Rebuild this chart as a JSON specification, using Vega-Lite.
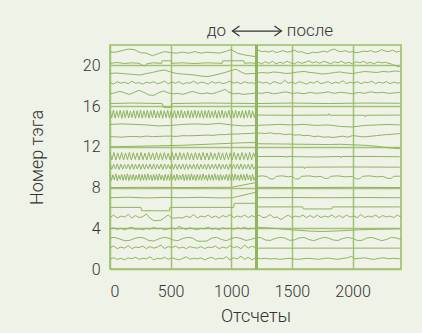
{
"$schema":"https://vega.github.io/schema/vega-lite/v6.json",
"width":291,"height":224,
"autosize":{"type":"none"},
"padding":{"left":110,"top":45,"right":21,"bottom":64},
"background":"#eef2e7",
"config":{
"view":{"stroke":"#9cbe6a","strokeWidth":1.6},
"font":"Roboto",
"axis":{"grid":true,"gridColor":"#a2c274","gridWidth":1.5,"ticks":false,"domain":false,"labelFont":"Roboto","labelFontWeight":300,"labelFontSize":16,"labelColor":"#333333","titleFont":"Roboto","titleFontWeight":300,"titleFontSize":18,"titleColor":"#333333"}
},
"layer":[
{
"data":{"values":[
{"t":21,"x":0,"y":21.3},{"t":21,"x":50,"y":21.3},{"t":21,"x":100,"y":21.45},{"t":21,"x":150,"y":21.6},{"t":21,"x":200,"y":21.55},{"t":21,"x":250,"y":21.25},{"t":21,"x":300,"y":21.2},{"t":21,"x":350,"y":20.95},{"t":21,"x":400,"y":21.15},{"t":21,"x":450,"y":21.35},{"t":21,"x":500,"y":21.25},{"t":21,"x":550,"y":21.2},{"t":21,"x":600,"y":21.3},{"t":21,"x":650,"y":21.2},{"t":21,"x":700,"y":21.35},{"t":21,"x":750,"y":21.2},{"t":21,"x":800,"y":21.3},{"t":21,"x":850,"y":21.25},{"t":21,"x":900,"y":21.2},{"t":21,"x":950,"y":21.35},{"t":21,"x":1000,"y":21.55},{"t":21,"x":1050,"y":21.2},{"t":21,"x":1100,"y":21.05},{"t":21,"x":1150,"y":20.95},{"t":21,"x":1200,"y":20.85},
{"t":21,"x":1220,"y":21.5},{"t":21,"x":1250,"y":21.35},{"t":21,"x":1280,"y":21.4},{"t":21,"x":1310,"y":21.3},{"t":21,"x":1340,"y":21.45},{"t":21,"x":1370,"y":21.25},{"t":21,"x":1400,"y":21.35},{"t":21,"x":1430,"y":21.45},{"t":21,"x":1460,"y":21.3},{"t":21,"x":1490,"y":21.35},{"t":21,"x":1520,"y":21.5},{"t":21,"x":1550,"y":21.3},{"t":21,"x":1580,"y":21.35},{"t":21,"x":1610,"y":21.2},{"t":21,"x":1640,"y":21.15},{"t":21,"x":1670,"y":21.3},{"t":21,"x":1700,"y":21.25},{"t":21,"x":1730,"y":21.3},{"t":21,"x":1760,"y":21.4},{"t":21,"x":1790,"y":21.3},{"t":21,"x":1820,"y":21.5},{"t":21,"x":1850,"y":21.6},{"t":21,"x":1880,"y":21.4},{"t":21,"x":1910,"y":21.35},{"t":21,"x":1940,"y":21.45},{"t":21,"x":1970,"y":21.3},{"t":21,"x":2000,"y":21.35},{"t":21,"x":2030,"y":21.25},{"t":21,"x":2060,"y":21.3},{"t":21,"x":2090,"y":21.4},{"t":21,"x":2120,"y":21.35},{"t":21,"x":2150,"y":21.45},{"t":21,"x":2180,"y":21.3},{"t":21,"x":2210,"y":21.35},{"t":21,"x":2240,"y":21.55},{"t":21,"x":2270,"y":21.4},{"t":21,"x":2300,"y":21.35},{"t":21,"x":2330,"y":21.5},{"t":21,"x":2360,"y":21.3},{"t":21,"x":2390,"y":21.4},
{"t":20,"x":0,"y":20.2},{"t":20,"x":60,"y":20.28},{"t":20,"x":120,"y":20.18},{"t":20,"x":180,"y":20.25},{"t":20,"x":240,"y":20.2},{"t":20,"x":265,"y":20.02},{"t":20,"x":285,"y":19.95},{"t":20,"x":305,"y":20.15},{"t":20,"x":350,"y":20.25},{"t":20,"x":425,"y":20.2},{"t":20,"x":430,"y":20.45},{"t":20,"x":505,"y":20.45},{"t":20,"x":510,"y":20.2},{"t":20,"x":600,"y":20.25},{"t":20,"x":700,"y":20.18},{"t":20,"x":800,"y":20.25},{"t":20,"x":925,"y":20.2},{"t":20,"x":930,"y":20.45},{"t":20,"x":1105,"y":20.45},{"t":20,"x":1110,"y":20.2},{"t":20,"x":1160,"y":20.25},{"t":20,"x":1200,"y":20.2},
{"t":20,"x":1220,"y":20.3},{"t":20,"x":1250,"y":20.15},{"t":20,"x":1280,"y":20.35},{"t":20,"x":1310,"y":20.2},{"t":20,"x":1340,"y":20.4},{"t":20,"x":1370,"y":20.15},{"t":20,"x":1400,"y":20.3},{"t":20,"x":1430,"y":20.2},{"t":20,"x":1460,"y":20.4},{"t":20,"x":1490,"y":20.25},{"t":20,"x":1520,"y":20.15},{"t":20,"x":1550,"y":20.35},{"t":20,"x":1580,"y":20.2},{"t":20,"x":1610,"y":20.3},{"t":20,"x":1640,"y":20.45},{"t":20,"x":1670,"y":20.25},{"t":20,"x":1700,"y":20.35},{"t":20,"x":1730,"y":20.2},{"t":20,"x":1760,"y":20.4},{"t":20,"x":1790,"y":20.3},{"t":20,"x":1820,"y":20.15},{"t":20,"x":1850,"y":20.35},{"t":20,"x":1880,"y":20.25},{"t":20,"x":1910,"y":20.4},{"t":20,"x":1940,"y":20.2},{"t":20,"x":1970,"y":20.3},{"t":20,"x":2000,"y":20.15},{"t":20,"x":2030,"y":20.35},{"t":20,"x":2060,"y":20.25},{"t":20,"x":2090,"y":20.4},{"t":20,"x":2120,"y":20.2},{"t":20,"x":2150,"y":20.3},{"t":20,"x":2180,"y":20.15},{"t":20,"x":2210,"y":20.35},{"t":20,"x":2240,"y":20.25},{"t":20,"x":2270,"y":20.3},{"t":20,"x":2300,"y":20.2},{"t":20,"x":2330,"y":20.1},{"t":20,"x":2360,"y":19.95},{"t":20,"x":2390,"y":19.85},
{"t":19,"x":0,"y":19.2},{"t":19,"x":50,"y":19.25},{"t":19,"x":100,"y":19.2},{"t":19,"x":150,"y":19.15},{"t":19,"x":200,"y":19.1},{"t":19,"x":250,"y":19.05},{"t":19,"x":300,"y":19.2},{"t":19,"x":350,"y":19.3},{"t":19,"x":400,"y":19.45},{"t":19,"x":450,"y":19.55},{"t":19,"x":500,"y":19.35},{"t":19,"x":550,"y":19.2},{"t":19,"x":600,"y":19.15},{"t":19,"x":650,"y":19.1},{"t":19,"x":700,"y":19.05},{"t":19,"x":750,"y":18.95},{"t":19,"x":800,"y":18.9},{"t":19,"x":850,"y":19.0},{"t":19,"x":900,"y":19.15},{"t":19,"x":950,"y":19.3},{"t":19,"x":1000,"y":19.5},{"t":19,"x":1040,"y":19.62},{"t":19,"x":1080,"y":19.35},{"t":19,"x":1120,"y":19.15},{"t":19,"x":1160,"y":19.2},{"t":19,"x":1200,"y":19.2},{"t":19,"x":1250,"y":19.3},{"t":19,"x":1300,"y":19.25},{"t":19,"x":1350,"y":19.35},{"t":19,"x":1400,"y":19.3},{"t":19,"x":1450,"y":19.2},{"t":19,"x":1500,"y":19.25},{"t":19,"x":1550,"y":19.35},{"t":19,"x":1600,"y":19.4},{"t":19,"x":1650,"y":19.3},{"t":19,"x":1700,"y":19.25},{"t":19,"x":1750,"y":19.15},{"t":19,"x":1800,"y":19.2},{"t":19,"x":1850,"y":19.3},{"t":19,"x":1900,"y":19.35},{"t":19,"x":1950,"y":19.25},{"t":19,"x":2000,"y":19.2},{"t":19,"x":2050,"y":19.3},{"t":19,"x":2100,"y":19.4},{"t":19,"x":2150,"y":19.35},{"t":19,"x":2200,"y":19.3},{"t":19,"x":2250,"y":19.4},{"t":19,"x":2300,"y":19.35},{"t":19,"x":2350,"y":19.45},{"t":19,"x":2390,"y":19.4},
{"t":18,"x":0,"y":18.3},{"t":18,"x":30,"y":18.15},{"t":18,"x":60,"y":18.4},{"t":18,"x":90,"y":18.25},{"t":18,"x":120,"y":18.35},{"t":18,"x":150,"y":18.2},{"t":18,"x":180,"y":18.45},{"t":18,"x":210,"y":18.25},{"t":18,"x":240,"y":18.3},{"t":18,"x":270,"y":18.15},{"t":18,"x":300,"y":18.35},{"t":18,"x":330,"y":18.25},{"t":18,"x":360,"y":18.4},{"t":18,"x":390,"y":18.2},{"t":18,"x":420,"y":18.3},{"t":18,"x":450,"y":18.45},{"t":18,"x":480,"y":18.2},{"t":18,"x":510,"y":18.35},{"t":18,"x":540,"y":18.25},{"t":18,"x":570,"y":18.4},{"t":18,"x":600,"y":18.15},{"t":18,"x":630,"y":18.3},{"t":18,"x":660,"y":18.25},{"t":18,"x":690,"y":18.45},{"t":18,"x":720,"y":18.2},{"t":18,"x":750,"y":18.35},{"t":18,"x":780,"y":18.3},{"t":18,"x":810,"y":18.15},{"t":18,"x":840,"y":18.4},{"t":18,"x":870,"y":18.25},{"t":18,"x":900,"y":18.35},{"t":18,"x":930,"y":18.2},{"t":18,"x":960,"y":18.3},{"t":18,"x":990,"y":18.45},{"t":18,"x":1020,"y":18.25},{"t":18,"x":1050,"y":18.35},{"t":18,"x":1080,"y":18.2},{"t":18,"x":1110,"y":18.4},{"t":18,"x":1140,"y":18.25},{"t":18,"x":1170,"y":18.3},{"t":18,"x":1200,"y":18.2},{"t":18,"x":1230,"y":18.4},{"t":18,"x":1260,"y":18.25},{"t":18,"x":1290,"y":18.35},{"t":18,"x":1320,"y":18.15},{"t":18,"x":1350,"y":18.4},{"t":18,"x":1380,"y":18.3},{"t":18,"x":1410,"y":18.2},{"t":18,"x":1440,"y":18.55},{"t":18,"x":1470,"y":18.25},{"t":18,"x":1500,"y":18.35},{"t":18,"x":1530,"y":18.2},{"t":18,"x":1560,"y":18.4},{"t":18,"x":1590,"y":18.3},{"t":18,"x":1620,"y":18.15},{"t":18,"x":1650,"y":18.35},{"t":18,"x":1680,"y":18.25},{"t":18,"x":1710,"y":18.45},{"t":18,"x":1740,"y":18.2},{"t":18,"x":1770,"y":18.3},{"t":18,"x":1800,"y":18.4},{"t":18,"x":1830,"y":18.2},{"t":18,"x":1860,"y":18.35},{"t":18,"x":1890,"y":18.25},{"t":18,"x":1920,"y":18.5},{"t":18,"x":1950,"y":18.2},{"t":18,"x":1980,"y":18.35},{"t":18,"x":2010,"y":18.25},{"t":18,"x":2040,"y":18.4},{"t":18,"x":2070,"y":18.2},{"t":18,"x":2100,"y":18.35},{"t":18,"x":2130,"y":18.3},{"t":18,"x":2160,"y":18.45},{"t":18,"x":2190,"y":18.2},{"t":18,"x":2220,"y":18.35},{"t":18,"x":2250,"y":18.25},{"t":18,"x":2280,"y":18.4},{"t":18,"x":2310,"y":18.2},{"t":18,"x":2340,"y":18.35},{"t":18,"x":2370,"y":18.25},{"t":18,"x":2400,"y":18.3},
{"t":17,"x":0,"y":17.2},{"t":17,"x":40,"y":17.3},{"t":17,"x":80,"y":17.45},{"t":17,"x":120,"y":17.3},{"t":17,"x":160,"y":17.15},{"t":17,"x":200,"y":17.35},{"t":17,"x":240,"y":17.55},{"t":17,"x":280,"y":17.35},{"t":17,"x":320,"y":17.1},{"t":17,"x":360,"y":17.05},{"t":17,"x":400,"y":17.3},{"t":17,"x":440,"y":17.5},{"t":17,"x":480,"y":17.3},{"t":17,"x":520,"y":17.2},{"t":17,"x":560,"y":17.25},{"t":17,"x":600,"y":17.15},{"t":17,"x":640,"y":17.3},{"t":17,"x":680,"y":17.45},{"t":17,"x":720,"y":17.3},{"t":17,"x":760,"y":17.2},{"t":17,"x":800,"y":17.3},{"t":17,"x":840,"y":17.2},{"t":17,"x":880,"y":17.35},{"t":17,"x":920,"y":17.5},{"t":17,"x":950,"y":17.65},{"t":17,"x":980,"y":17.35},{"t":17,"x":1020,"y":17.2},{"t":17,"x":1060,"y":17.25},{"t":17,"x":1100,"y":17.15},{"t":17,"x":1140,"y":17.2},{"t":17,"x":1180,"y":17.25},{"t":17,"x":1210,"y":17.3},{"t":17,"x":1250,"y":17.25},{"t":17,"x":1300,"y":17.35},{"t":17,"x":1350,"y":17.2},{"t":17,"x":1400,"y":17.3},{"t":17,"x":1450,"y":17.4},{"t":17,"x":1500,"y":17.25},{"t":17,"x":1550,"y":17.3},{"t":17,"x":1600,"y":17.2},{"t":17,"x":1650,"y":17.35},{"t":17,"x":1700,"y":17.25},{"t":17,"x":1750,"y":17.3},{"t":17,"x":1800,"y":17.4},{"t":17,"x":1850,"y":17.25},{"t":17,"x":1900,"y":17.35},{"t":17,"x":1950,"y":17.3},{"t":17,"x":2000,"y":17.2},{"t":17,"x":2050,"y":17.35},{"t":17,"x":2100,"y":17.25},{"t":17,"x":2150,"y":17.4},{"t":17,"x":2200,"y":17.3},{"t":17,"x":2250,"y":17.35},{"t":17,"x":2300,"y":17.25},{"t":17,"x":2350,"y":17.3},{"t":17,"x":2390,"y":17.35},
{"t":16,"x":0,"y":16.25},{"t":16,"x":200,"y":16.3},{"t":16,"x":430,"y":16.25},{"t":16,"x":445,"y":15.85},{"t":16,"x":500,"y":15.85},{"t":16,"x":515,"y":16.25},{"t":16,"x":800,"y":16.3},{"t":16,"x":1208,"y":16.25},{"t":16,"x":1500,"y":16.3},{"t":16,"x":1800,"y":16.25},{"t":16,"x":2100,"y":16.3},{"t":16,"x":2390,"y":16.28},
{"t":15,"x":0,"y":15.55},{"t":15,"x":14,"y":14.85},{"t":15,"x":28,"y":15.6},{"t":15,"x":42,"y":14.82},{"t":15,"x":56,"y":15.52},{"t":15,"x":70,"y":14.88},{"t":15,"x":84,"y":15.58},{"t":15,"x":98,"y":14.8},{"t":15,"x":112,"y":15.55},{"t":15,"x":126,"y":14.86},{"t":15,"x":140,"y":15.6},{"t":15,"x":154,"y":14.83},{"t":15,"x":168,"y":15.5},{"t":15,"x":182,"y":14.87},{"t":15,"x":196,"y":15.57},{"t":15,"x":210,"y":14.8},{"t":15,"x":224,"y":15.55},{"t":15,"x":238,"y":14.85},{"t":15,"x":252,"y":15.6},{"t":15,"x":266,"y":14.82},{"t":15,"x":280,"y":15.53},{"t":15,"x":294,"y":14.88},{"t":15,"x":308,"y":15.58},{"t":15,"x":322,"y":14.81},{"t":15,"x":336,"y":15.55},{"t":15,"x":350,"y":14.85},{"t":15,"x":364,"y":15.6},{"t":15,"x":378,"y":14.83},{"t":15,"x":392,"y":15.5},{"t":15,"x":406,"y":14.87},{"t":15,"x":420,"y":15.57},{"t":15,"x":434,"y":14.8},{"t":15,"x":448,"y":15.55},{"t":15,"x":462,"y":14.86},{"t":15,"x":476,"y":15.6},{"t":15,"x":490,"y":14.82},{"t":15,"x":504,"y":15.52},{"t":15,"x":518,"y":14.88},{"t":15,"x":532,"y":15.58},{"t":15,"x":546,"y":14.8},{"t":15,"x":560,"y":15.55},{"t":15,"x":574,"y":14.85},{"t":15,"x":588,"y":15.6},{"t":15,"x":602,"y":14.83},{"t":15,"x":616,"y":15.5},{"t":15,"x":630,"y":14.87},{"t":15,"x":644,"y":15.57},{"t":15,"x":658,"y":14.81},{"t":15,"x":672,"y":15.55},{"t":15,"x":686,"y":14.85},{"t":15,"x":700,"y":15.6},{"t":15,"x":714,"y":14.82},{"t":15,"x":728,"y":15.53},{"t":15,"x":742,"y":14.88},{"t":15,"x":756,"y":15.58},{"t":15,"x":770,"y":14.8},{"t":15,"x":784,"y":15.55},{"t":15,"x":798,"y":14.86},{"t":15,"x":812,"y":15.6},{"t":15,"x":826,"y":14.83},{"t":15,"x":840,"y":15.5},{"t":15,"x":854,"y":14.87},{"t":15,"x":868,"y":15.57},{"t":15,"x":882,"y":14.8},{"t":15,"x":896,"y":15.55},{"t":15,"x":910,"y":14.85},{"t":15,"x":924,"y":15.6},{"t":15,"x":938,"y":14.82},{"t":15,"x":952,"y":15.52},{"t":15,"x":966,"y":14.88},{"t":15,"x":980,"y":15.58},{"t":15,"x":994,"y":14.81},{"t":15,"x":1008,"y":15.55},{"t":15,"x":1022,"y":14.85},{"t":15,"x":1036,"y":15.6},{"t":15,"x":1050,"y":14.83},{"t":15,"x":1064,"y":15.5},{"t":15,"x":1078,"y":14.87},{"t":15,"x":1092,"y":15.57},{"t":15,"x":1106,"y":14.8},{"t":15,"x":1120,"y":15.55},{"t":15,"x":1134,"y":14.86},{"t":15,"x":1148,"y":15.6},{"t":15,"x":1162,"y":14.82},{"t":15,"x":1176,"y":15.52},{"t":15,"x":1190,"y":14.88},{"t":15,"x":1204,"y":15.5},
{"t":15,"x":1210,"y":15.12},{"t":15,"x":1500,"y":15.1},{"t":15,"x":1505,"y":14.95},{"t":15,"x":1512,"y":15.1},{"t":15,"x":1800,"y":15.12},{"t":15,"x":1805,"y":15.25},{"t":15,"x":1812,"y":15.1},{"t":15,"x":2100,"y":15.1},{"t":15,"x":2105,"y":14.95},{"t":15,"x":2112,"y":15.1},{"t":15,"x":2390,"y":15.12},
{"t":14,"x":0,"y":14.2},{"t":14,"x":100,"y":14.25},{"t":14,"x":200,"y":14.2},{"t":14,"x":300,"y":14.15},{"t":14,"x":400,"y":14.05},{"t":14,"x":500,"y":14.1},{"t":14,"x":600,"y":14.2},{"t":14,"x":700,"y":14.25},{"t":14,"x":800,"y":14.2},{"t":14,"x":900,"y":14.3},{"t":14,"x":1000,"y":14.15},{"t":14,"x":1100,"y":14.05},{"t":14,"x":1200,"y":14.1},{"t":14,"x":1300,"y":14.15},{"t":14,"x":1400,"y":14.2},{"t":14,"x":1500,"y":14.15},{"t":14,"x":1600,"y":14.2},{"t":14,"x":1700,"y":14.1},{"t":14,"x":1800,"y":14.15},{"t":14,"x":1900,"y":14.0},{"t":14,"x":2000,"y":13.95},{"t":14,"x":2100,"y":14.1},{"t":14,"x":2200,"y":14.15},{"t":14,"x":2300,"y":14.2},{"t":14,"x":2390,"y":14.15},
{"t":13,"x":0,"y":13.0},{"t":13,"x":50,"y":12.98},{"t":13,"x":100,"y":12.95},{"t":13,"x":150,"y":13.0},{"t":13,"x":200,"y":13.02},{"t":13,"x":250,"y":12.98},{"t":13,"x":300,"y":13.05},{"t":13,"x":350,"y":13.0},{"t":13,"x":400,"y":13.02},{"t":13,"x":450,"y":13.05},{"t":13,"x":500,"y":13.05},{"t":13,"x":550,"y":13.02},{"t":13,"x":600,"y":13.1},{"t":13,"x":650,"y":13.08},{"t":13,"x":700,"y":13.1},{"t":13,"x":750,"y":13.12},{"t":13,"x":800,"y":13.15},{"t":13,"x":850,"y":13.12},{"t":13,"x":900,"y":13.2},{"t":13,"x":950,"y":13.2},{"t":13,"x":1000,"y":13.25},{"t":13,"x":1050,"y":13.25},{"t":13,"x":1100,"y":13.3},{"t":13,"x":1150,"y":13.3},{"t":13,"x":1200,"y":13.35},{"t":13,"x":1240,"y":13.35},{"t":13,"x":1280,"y":13.3},{"t":13,"x":1320,"y":13.38},{"t":13,"x":1360,"y":13.28},{"t":13,"x":1400,"y":13.3},{"t":13,"x":1440,"y":13.2},{"t":13,"x":1480,"y":13.25},{"t":13,"x":1520,"y":13.15},{"t":13,"x":1560,"y":13.18},{"t":13,"x":1600,"y":13.1},{"t":13,"x":1640,"y":13.12},{"t":13,"x":1680,"y":13.0},{"t":13,"x":1720,"y":13.05},{"t":13,"x":1760,"y":12.95},{"t":13,"x":1800,"y":12.98},{"t":13,"x":1840,"y":12.92},{"t":13,"x":1880,"y":12.98},{"t":13,"x":1920,"y":13.05},{"t":13,"x":1960,"y":12.95},{"t":13,"x":2000,"y":13.1},{"t":13,"x":2040,"y":13.05},{"t":13,"x":2080,"y":12.98},{"t":13,"x":2120,"y":13.0},{"t":13,"x":2160,"y":13.05},{"t":13,"x":2200,"y":13.1},{"t":13,"x":2240,"y":13.15},{"t":13,"x":2280,"y":13.2},{"t":13,"x":2320,"y":13.22},{"t":13,"x":2360,"y":13.28},{"t":13,"x":2390,"y":13.3},
{"t":12,"x":0,"y":12.0},{"t":12,"x":200,"y":12.05},{"t":12,"x":400,"y":12.1},{"t":12,"x":600,"y":12.15},{"t":12,"x":800,"y":12.25},{"t":12,"x":1000,"y":12.35},{"t":12,"x":1100,"y":12.4},{"t":12,"x":1208,"y":12.42},{"t":12,"x":1212,"y":12.3},{"t":12,"x":1400,"y":12.28},{"t":12,"x":1600,"y":12.25},{"t":12,"x":1800,"y":12.22},{"t":12,"x":1900,"y":12.25},{"t":12,"x":2000,"y":12.2},{"t":12,"x":2100,"y":12.15},{"t":12,"x":2200,"y":12.05},{"t":12,"x":2300,"y":11.9},{"t":12,"x":2390,"y":11.82},
{"t":11,"x":0,"y":11.42},{"t":11,"x":16,"y":10.72},{"t":11,"x":32,"y":11.45},{"t":11,"x":48,"y":10.7},{"t":11,"x":64,"y":11.4},{"t":11,"x":80,"y":10.75},{"t":11,"x":96,"y":11.44},{"t":11,"x":112,"y":10.7},{"t":11,"x":128,"y":11.38},{"t":11,"x":144,"y":10.74},{"t":11,"x":160,"y":11.45},{"t":11,"x":176,"y":10.7},{"t":11,"x":192,"y":11.42},{"t":11,"x":208,"y":10.76},{"t":11,"x":224,"y":11.4},{"t":11,"x":240,"y":10.7},{"t":11,"x":256,"y":11.45},{"t":11,"x":272,"y":10.73},{"t":11,"x":288,"y":11.38},{"t":11,"x":304,"y":10.7},{"t":11,"x":320,"y":11.44},{"t":11,"x":336,"y":10.75},{"t":11,"x":352,"y":11.4},{"t":11,"x":368,"y":10.7},{"t":11,"x":384,"y":11.45},{"t":11,"x":400,"y":10.72},{"t":11,"x":416,"y":11.4},{"t":11,"x":432,"y":10.7},{"t":11,"x":448,"y":11.43},{"t":11,"x":464,"y":10.76},{"t":11,"x":480,"y":11.38},{"t":11,"x":496,"y":10.7},{"t":11,"x":512,"y":11.45},{"t":11,"x":528,"y":10.73},{"t":11,"x":544,"y":11.4},{"t":11,"x":560,"y":10.7},{"t":11,"x":576,"y":11.44},{"t":11,"x":592,"y":10.75},{"t":11,"x":608,"y":11.4},{"t":11,"x":624,"y":10.7},{"t":11,"x":640,"y":11.45},{"t":11,"x":656,"y":10.72},{"t":11,"x":672,"y":11.38},{"t":11,"x":688,"y":10.7},{"t":11,"x":704,"y":11.43},{"t":11,"x":720,"y":10.75},{"t":11,"x":736,"y":11.4},{"t":11,"x":752,"y":10.7},{"t":11,"x":768,"y":11.45},{"t":11,"x":784,"y":10.73},{"t":11,"x":800,"y":11.4},{"t":11,"x":816,"y":10.7},{"t":11,"x":832,"y":11.44},{"t":11,"x":848,"y":10.76},{"t":11,"x":864,"y":11.38},{"t":11,"x":880,"y":10.7},{"t":11,"x":896,"y":11.45},{"t":11,"x":912,"y":10.72},{"t":11,"x":928,"y":11.4},{"t":11,"x":944,"y":10.7},{"t":11,"x":960,"y":11.43},{"t":11,"x":976,"y":10.75},{"t":11,"x":992,"y":11.4},{"t":11,"x":1008,"y":10.7},{"t":11,"x":1024,"y":11.45},{"t":11,"x":1040,"y":10.73},{"t":11,"x":1056,"y":11.38},{"t":11,"x":1072,"y":10.7},{"t":11,"x":1088,"y":11.44},{"t":11,"x":1104,"y":10.75},{"t":11,"x":1120,"y":11.4},{"t":11,"x":1136,"y":10.7},{"t":11,"x":1152,"y":11.45},{"t":11,"x":1168,"y":10.72},{"t":11,"x":1184,"y":11.4},{"t":11,"x":1200,"y":10.9},
{"t":11,"x":1212,"y":11.05},{"t":11,"x":1450,"y":11.05},{"t":11,"x":1455,"y":10.9},{"t":11,"x":1462,"y":11.05},{"t":11,"x":1700,"y":11.0},{"t":11,"x":1900,"y":11.05},{"t":11,"x":1905,"y":10.92},{"t":11,"x":1912,"y":11.05},{"t":11,"x":2200,"y":11.05},{"t":11,"x":2390,"y":11.02},
{"t":10,"x":0,"y":10.3},{"t":10,"x":15,"y":9.8},{"t":10,"x":30,"y":10.28},{"t":10,"x":45,"y":9.82},{"t":10,"x":60,"y":10.32},{"t":10,"x":75,"y":9.78},{"t":10,"x":90,"y":10.3},{"t":10,"x":105,"y":9.8},{"t":10,"x":120,"y":10.27},{"t":10,"x":135,"y":9.83},{"t":10,"x":150,"y":10.3},{"t":10,"x":165,"y":9.79},{"t":10,"x":180,"y":10.32},{"t":10,"x":195,"y":9.8},{"t":10,"x":210,"y":10.28},{"t":10,"x":225,"y":9.82},{"t":10,"x":240,"y":10.3},{"t":10,"x":255,"y":9.78},{"t":10,"x":270,"y":10.31},{"t":10,"x":285,"y":9.8},{"t":10,"x":300,"y":10.27},{"t":10,"x":315,"y":9.83},{"t":10,"x":330,"y":10.3},{"t":10,"x":345,"y":9.8},{"t":10,"x":360,"y":10.32},{"t":10,"x":375,"y":9.79},{"t":10,"x":390,"y":10.28},{"t":10,"x":405,"y":9.82},{"t":10,"x":420,"y":10.3},{"t":10,"x":435,"y":9.78},{"t":10,"x":450,"y":10.31},{"t":10,"x":465,"y":9.8},{"t":10,"x":480,"y":10.27},{"t":10,"x":495,"y":9.83},{"t":10,"x":510,"y":10.3},{"t":10,"x":525,"y":9.8},{"t":10,"x":540,"y":10.32},{"t":10,"x":555,"y":9.79},{"t":10,"x":570,"y":10.28},{"t":10,"x":585,"y":9.82},{"t":10,"x":600,"y":10.3},{"t":10,"x":615,"y":9.78},{"t":10,"x":630,"y":10.31},{"t":10,"x":645,"y":9.8},{"t":10,"x":660,"y":10.27},{"t":10,"x":675,"y":9.83},{"t":10,"x":690,"y":10.3},{"t":10,"x":705,"y":9.8},{"t":10,"x":720,"y":10.32},{"t":10,"x":735,"y":9.79},{"t":10,"x":750,"y":10.28},{"t":10,"x":765,"y":9.82},{"t":10,"x":780,"y":10.3},{"t":10,"x":795,"y":9.78},{"t":10,"x":810,"y":10.31},{"t":10,"x":825,"y":9.8},{"t":10,"x":840,"y":10.27},{"t":10,"x":855,"y":9.83},{"t":10,"x":870,"y":10.3},{"t":10,"x":885,"y":9.8},{"t":10,"x":900,"y":10.32},{"t":10,"x":915,"y":9.79},{"t":10,"x":930,"y":10.28},{"t":10,"x":945,"y":9.82},{"t":10,"x":960,"y":10.3},{"t":10,"x":975,"y":9.78},{"t":10,"x":990,"y":10.31},{"t":10,"x":1005,"y":9.8},{"t":10,"x":1020,"y":10.27},{"t":10,"x":1035,"y":9.83},{"t":10,"x":1050,"y":10.3},{"t":10,"x":1065,"y":9.8},{"t":10,"x":1080,"y":10.32},{"t":10,"x":1095,"y":9.79},{"t":10,"x":1110,"y":10.28},{"t":10,"x":1125,"y":9.82},{"t":10,"x":1140,"y":10.3},{"t":10,"x":1155,"y":9.78},{"t":10,"x":1170,"y":10.31},{"t":10,"x":1185,"y":9.8},{"t":10,"x":1200,"y":10.1},
{"t":10,"x":1212,"y":10.0},{"t":10,"x":1600,"y":10.0},{"t":10,"x":1605,"y":9.85},{"t":10,"x":1612,"y":10.0},{"t":10,"x":2000,"y":10.02},{"t":10,"x":2390,"y":10.0},
{"t":9,"x":0,"y":9.3},{"t":9,"x":12,"y":8.7},{"t":9,"x":24,"y":9.25},{"t":9,"x":36,"y":8.75},{"t":9,"x":48,"y":9.35},{"t":9,"x":60,"y":8.66},{"t":9,"x":72,"y":9.22},{"t":9,"x":84,"y":8.78},{"t":9,"x":96,"y":9.3},{"t":9,"x":108,"y":8.7},{"t":9,"x":120,"y":9.28},{"t":9,"x":132,"y":8.72},{"t":9,"x":144,"y":9.35},{"t":9,"x":156,"y":8.68},{"t":9,"x":168,"y":9.25},{"t":9,"x":180,"y":8.75},{"t":9,"x":192,"y":9.3},{"t":9,"x":204,"y":8.7},{"t":9,"x":216,"y":9.22},{"t":9,"x":228,"y":8.78},{"t":9,"x":240,"y":9.33},{"t":9,"x":252,"y":8.66},{"t":9,"x":264,"y":9.27},{"t":9,"x":276,"y":8.72},{"t":9,"x":288,"y":9.3},{"t":9,"x":300,"y":8.7},{"t":9,"x":312,"y":9.35},{"t":9,"x":324,"y":8.75},{"t":9,"x":336,"y":9.24},{"t":9,"x":348,"y":8.68},{"t":9,"x":360,"y":9.3},{"t":9,"x":372,"y":8.73},{"t":9,"x":384,"y":9.28},{"t":9,"x":396,"y":8.7},{"t":9,"x":408,"y":9.35},{"t":9,"x":420,"y":8.77},{"t":9,"x":432,"y":9.22},{"t":9,"x":444,"y":8.66},{"t":9,"x":456,"y":9.3},{"t":9,"x":468,"y":8.72},{"t":9,"x":480,"y":9.26},{"t":9,"x":492,"y":8.7},{"t":9,"x":504,"y":9.34},{"t":9,"x":516,"y":8.75},{"t":9,"x":528,"y":9.25},{"t":9,"x":540,"y":8.68},{"t":9,"x":552,"y":9.3},{"t":9,"x":564,"y":8.73},{"t":9,"x":576,"y":9.22},{"t":9,"x":588,"y":8.78},{"t":9,"x":600,"y":9.33},{"t":9,"x":612,"y":8.66},{"t":9,"x":624,"y":9.28},{"t":9,"x":636,"y":8.72},{"t":9,"x":648,"y":9.3},{"t":9,"x":660,"y":8.7},{"t":9,"x":672,"y":9.35},{"t":9,"x":684,"y":8.75},{"t":9,"x":696,"y":9.24},{"t":9,"x":708,"y":8.68},{"t":9,"x":720,"y":9.3},{"t":9,"x":732,"y":8.73},{"t":9,"x":744,"y":9.27},{"t":9,"x":756,"y":8.7},{"t":9,"x":768,"y":9.34},{"t":9,"x":780,"y":8.77},{"t":9,"x":792,"y":9.22},{"t":9,"x":804,"y":8.66},{"t":9,"x":816,"y":9.3},{"t":9,"x":828,"y":8.72},{"t":9,"x":840,"y":9.26},{"t":9,"x":852,"y":8.7},{"t":9,"x":864,"y":9.35},{"t":9,"x":876,"y":8.75},{"t":9,"x":888,"y":9.25},{"t":9,"x":900,"y":8.68},{"t":9,"x":912,"y":9.3},{"t":9,"x":924,"y":8.73},{"t":9,"x":936,"y":9.22},{"t":9,"x":948,"y":8.78},{"t":9,"x":960,"y":9.33},{"t":9,"x":972,"y":8.66},{"t":9,"x":984,"y":9.28},{"t":9,"x":996,"y":8.72},{"t":9,"x":1008,"y":9.3},{"t":9,"x":1020,"y":8.7},{"t":9,"x":1032,"y":9.35},{"t":9,"x":1044,"y":8.75},{"t":9,"x":1056,"y":9.24},{"t":9,"x":1068,"y":8.68},{"t":9,"x":1080,"y":9.3},{"t":9,"x":1092,"y":8.73},{"t":9,"x":1104,"y":9.27},{"t":9,"x":1116,"y":8.7},{"t":9,"x":1128,"y":9.34},{"t":9,"x":1140,"y":8.77},{"t":9,"x":1152,"y":9.22},{"t":9,"x":1164,"y":8.66},{"t":9,"x":1176,"y":9.3},{"t":9,"x":1188,"y":8.72},{"t":9,"x":1200,"y":9.1},
{"t":9,"x":1212,"y":9.1},{"t":9,"x":1260,"y":9.15},{"t":9,"x":1300,"y":9.05},{"t":9,"x":1320,"y":8.85},{"t":9,"x":1350,"y":8.85},{"t":9,"x":1370,"y":9.1},{"t":9,"x":1420,"y":9.15},{"t":9,"x":1470,"y":9.05},{"t":9,"x":1500,"y":9.1},{"t":9,"x":1530,"y":8.85},{"t":9,"x":1560,"y":8.85},{"t":9,"x":1580,"y":9.1},{"t":9,"x":1640,"y":9.15},{"t":9,"x":1700,"y":9.05},{"t":9,"x":1740,"y":9.1},{"t":9,"x":1770,"y":8.9},{"t":9,"x":1800,"y":8.9},{"t":9,"x":1820,"y":9.1},{"t":9,"x":1880,"y":9.15},{"t":9,"x":1940,"y":9.05},{"t":9,"x":2000,"y":9.1},{"t":9,"x":2030,"y":8.85},{"t":9,"x":2060,"y":8.85},{"t":9,"x":2080,"y":9.1},{"t":9,"x":2140,"y":9.15},{"t":9,"x":2200,"y":9.05},{"t":9,"x":2250,"y":9.1},{"t":9,"x":2290,"y":8.9},{"t":9,"x":2320,"y":8.9},{"t":9,"x":2340,"y":9.1},{"t":9,"x":2390,"y":9.12},
{"t":8,"x":0,"y":8.0},{"t":8,"x":300,"y":8.02},{"t":8,"x":600,"y":8.0},{"t":8,"x":900,"y":8.02},{"t":8,"x":1000,"y":8.02},{"t":8,"x":1100,"y":8.25},{"t":8,"x":1208,"y":8.5},{"t":8,"x":1212,"y":8.02},{"t":8,"x":1600,"y":8.0},{"t":8,"x":2000,"y":8.02},{"t":8,"x":2390,"y":8.0},
{"t":7,"x":0,"y":7.0},{"t":7,"x":150,"y":7.05},{"t":7,"x":300,"y":6.98},{"t":7,"x":450,"y":7.03},{"t":7,"x":600,"y":7.0},{"t":7,"x":750,"y":7.04},{"t":7,"x":900,"y":6.98},{"t":7,"x":1010,"y":7.0},{"t":7,"x":1208,"y":7.55},{"t":7,"x":1212,"y":7.0},{"t":7,"x":1500,"y":7.02},{"t":7,"x":1800,"y":7.0},{"t":7,"x":2100,"y":7.02},{"t":7,"x":2390,"y":7.0},
{"t":6,"x":0,"y":6.05},{"t":6,"x":255,"y":6.05},{"t":6,"x":260,"y":5.72},{"t":6,"x":490,"y":5.72},{"t":6,"x":495,"y":6.05},{"t":6,"x":1020,"y":6.05},{"t":6,"x":1025,"y":6.45},{"t":6,"x":1208,"y":6.45},{"t":6,"x":1212,"y":6.1},{"t":6,"x":1590,"y":6.1},{"t":6,"x":1595,"y":5.9},{"t":6,"x":1830,"y":5.9},{"t":6,"x":1835,"y":6.1},{"t":6,"x":2390,"y":6.1},
{"t":5,"x":0,"y":5.05},{"t":5,"x":30,"y":5.3},{"t":5,"x":60,"y":5.0},{"t":5,"x":90,"y":5.2},{"t":5,"x":120,"y":5.1},{"t":5,"x":150,"y":5.35},{"t":5,"x":180,"y":5.0},{"t":5,"x":210,"y":5.25},{"t":5,"x":240,"y":5.05},{"t":5,"x":270,"y":5.15},{"t":5,"x":300,"y":5.4},{"t":5,"x":330,"y":5.0},{"t":5,"x":360,"y":4.75},{"t":5,"x":390,"y":4.75},{"t":5,"x":420,"y":4.8},{"t":5,"x":450,"y":5.05},{"t":5,"x":480,"y":5.3},{"t":5,"x":510,"y":5.0},{"t":5,"x":540,"y":5.0},{"t":5,"x":570,"y":5.05},{"t":5,"x":600,"y":5.0},{"t":5,"x":630,"y":5.2},{"t":5,"x":660,"y":5.05},{"t":5,"x":690,"y":5.35},{"t":5,"x":720,"y":5.0},{"t":5,"x":750,"y":5.2},{"t":5,"x":780,"y":5.1},{"t":5,"x":810,"y":5.3},{"t":5,"x":840,"y":5.05},{"t":5,"x":870,"y":5.2},{"t":5,"x":900,"y":5.0},{"t":5,"x":930,"y":5.25},{"t":5,"x":960,"y":5.1},{"t":5,"x":990,"y":5.35},{"t":5,"x":1020,"y":5.05},{"t":5,"x":1050,"y":5.2},{"t":5,"x":1080,"y":5.1},{"t":5,"x":1110,"y":5.3},{"t":5,"x":1140,"y":5.05},{"t":5,"x":1170,"y":5.25},{"t":5,"x":1200,"y":5.05},{"t":5,"x":1230,"y":5.3},{"t":5,"x":1260,"y":5.05},{"t":5,"x":1290,"y":5.1},{"t":5,"x":1320,"y":5.35},{"t":5,"x":1350,"y":5.05},{"t":5,"x":1380,"y":5.1},{"t":5,"x":1410,"y":4.85},{"t":5,"x":1440,"y":5.1},{"t":5,"x":1470,"y":5.3},{"t":5,"x":1500,"y":5.05},{"t":5,"x":1530,"y":5.2},{"t":5,"x":1560,"y":5.1},{"t":5,"x":1590,"y":5.3},{"t":5,"x":1620,"y":5.05},{"t":5,"x":1650,"y":5.25},{"t":5,"x":1680,"y":5.05},{"t":5,"x":1710,"y":5.3},{"t":5,"x":1740,"y":5.05},{"t":5,"x":1770,"y":5.2},{"t":5,"x":1800,"y":5.1},{"t":5,"x":1830,"y":5.3},{"t":5,"x":1860,"y":5.05},{"t":5,"x":1890,"y":5.25},{"t":5,"x":1920,"y":5.05},{"t":5,"x":1950,"y":5.3},{"t":5,"x":1980,"y":5.1},{"t":5,"x":2010,"y":5.2},{"t":5,"x":2040,"y":5.05},{"t":5,"x":2070,"y":5.35},{"t":5,"x":2100,"y":5.05},{"t":5,"x":2130,"y":5.2},{"t":5,"x":2160,"y":5.1},{"t":5,"x":2190,"y":5.3},{"t":5,"x":2220,"y":5.05},{"t":5,"x":2250,"y":5.25},{"t":5,"x":2280,"y":5.1},{"t":5,"x":2310,"y":5.2},{"t":5,"x":2340,"y":5.05},{"t":5,"x":2370,"y":5.3},{"t":5,"x":2400,"y":5.1},
{"t":4,"x":0,"y":3.95},{"t":4,"x":30,"y":4.05},{"t":4,"x":60,"y":3.9},{"t":4,"x":90,"y":4.0},{"t":4,"x":120,"y":3.85},{"t":4,"x":150,"y":4.0},{"t":4,"x":180,"y":4.1},{"t":4,"x":210,"y":3.9},{"t":4,"x":240,"y":3.95},{"t":4,"x":270,"y":3.85},{"t":4,"x":300,"y":4.0},{"t":4,"x":330,"y":3.9},{"t":4,"x":360,"y":4.1},{"t":4,"x":390,"y":3.95},{"t":4,"x":420,"y":4.0},{"t":4,"x":450,"y":3.85},{"t":4,"x":480,"y":3.95},{"t":4,"x":510,"y":4.05},{"t":4,"x":540,"y":3.9},{"t":4,"x":570,"y":4.2},{"t":4,"x":600,"y":4.0},{"t":4,"x":630,"y":3.9},{"t":4,"x":660,"y":4.05},{"t":4,"x":690,"y":3.95},{"t":4,"x":720,"y":3.85},{"t":4,"x":750,"y":4.0},{"t":4,"x":780,"y":3.95},{"t":4,"x":810,"y":4.1},{"t":4,"x":840,"y":3.9},{"t":4,"x":870,"y":4.0},{"t":4,"x":900,"y":3.85},{"t":4,"x":930,"y":4.05},{"t":4,"x":960,"y":3.95},{"t":4,"x":990,"y":4.0},{"t":4,"x":1020,"y":3.9},{"t":4,"x":1050,"y":4.05},{"t":4,"x":1080,"y":3.95},{"t":4,"x":1110,"y":4.1},{"t":4,"x":1140,"y":3.9},{"t":4,"x":1170,"y":4.0},{"t":4,"x":1200,"y":3.95},
{"t":4,"x":1215,"y":4.1},{"t":4,"x":1350,"y":4.0},{"t":4,"x":1500,"y":3.85},{"t":4,"x":1650,"y":3.72},{"t":4,"x":1750,"y":3.68},{"t":4,"x":1900,"y":3.75},{"t":4,"x":2050,"y":3.85},{"t":4,"x":2200,"y":3.9},{"t":4,"x":2390,"y":3.95},
{"t":3,"x":0,"y":3.05},{"t":3,"x":40,"y":3.1},{"t":3,"x":80,"y":2.95},{"t":3,"x":120,"y":2.78},{"t":3,"x":160,"y":2.8},{"t":3,"x":200,"y":3.0},{"t":3,"x":240,"y":3.1},{"t":3,"x":280,"y":3.05},{"t":3,"x":320,"y":2.8},{"t":3,"x":360,"y":2.75},{"t":3,"x":400,"y":2.95},{"t":3,"x":440,"y":3.1},{"t":3,"x":480,"y":3.05},{"t":3,"x":520,"y":2.85},{"t":3,"x":560,"y":2.78},{"t":3,"x":600,"y":3.0},{"t":3,"x":640,"y":3.1},{"t":3,"x":680,"y":3.05},{"t":3,"x":720,"y":2.75},{"t":3,"x":760,"y":2.72},{"t":3,"x":800,"y":2.75},{"t":3,"x":840,"y":3.05},{"t":3,"x":880,"y":3.1},{"t":3,"x":920,"y":2.9},{"t":3,"x":960,"y":2.78},{"t":3,"x":1000,"y":3.0},{"t":3,"x":1040,"y":3.1},{"t":3,"x":1080,"y":3.0},{"t":3,"x":1120,"y":2.8},{"t":3,"x":1160,"y":2.9},{"t":3,"x":1200,"y":3.05},{"t":3,"x":1240,"y":3.1},{"t":3,"x":1280,"y":2.85},{"t":3,"x":1320,"y":2.8},{"t":3,"x":1360,"y":3.0},{"t":3,"x":1400,"y":3.1},{"t":3,"x":1440,"y":3.05},{"t":3,"x":1480,"y":2.82},{"t":3,"x":1520,"y":2.85},{"t":3,"x":1560,"y":3.05},{"t":3,"x":1600,"y":3.1},{"t":3,"x":1640,"y":2.9},{"t":3,"x":1680,"y":2.78},{"t":3,"x":1720,"y":2.95},{"t":3,"x":1760,"y":3.1},{"t":3,"x":1800,"y":3.05},{"t":3,"x":1840,"y":2.85},{"t":3,"x":1880,"y":2.8},{"t":3,"x":1920,"y":3.0},{"t":3,"x":1960,"y":3.1},{"t":3,"x":2000,"y":3.0},{"t":3,"x":2040,"y":2.8},{"t":3,"x":2080,"y":2.82},{"t":3,"x":2120,"y":3.05},{"t":3,"x":2160,"y":3.1},{"t":3,"x":2200,"y":2.95},{"t":3,"x":2240,"y":2.78},{"t":3,"x":2280,"y":2.9},{"t":3,"x":2320,"y":3.1},{"t":3,"x":2360,"y":3.05},{"t":3,"x":2400,"y":2.9},
{"t":2,"x":0,"y":2.1},{"t":2,"x":30,"y":2.25},{"t":2,"x":60,"y":2.0},{"t":2,"x":90,"y":2.15},{"t":2,"x":120,"y":2.05},{"t":2,"x":150,"y":2.3},{"t":2,"x":180,"y":2.0},{"t":2,"x":210,"y":2.15},{"t":2,"x":240,"y":2.1},{"t":2,"x":270,"y":2.25},{"t":2,"x":300,"y":2.0},{"t":2,"x":330,"y":2.2},{"t":2,"x":360,"y":2.05},{"t":2,"x":390,"y":2.15},{"t":2,"x":420,"y":2.35},{"t":2,"x":450,"y":2.0},{"t":2,"x":480,"y":2.2},{"t":2,"x":510,"y":2.1},{"t":2,"x":540,"y":2.25},{"t":2,"x":570,"y":2.05},{"t":2,"x":600,"y":2.15},{"t":2,"x":630,"y":2.0},{"t":2,"x":660,"y":2.2},{"t":2,"x":690,"y":2.1},{"t":2,"x":720,"y":2.05},{"t":2,"x":750,"y":2.2},{"t":2,"x":780,"y":2.0},{"t":2,"x":810,"y":2.15},{"t":2,"x":840,"y":2.1},{"t":2,"x":870,"y":2.25},{"t":2,"x":900,"y":2.0},{"t":2,"x":930,"y":2.15},{"t":2,"x":960,"y":2.05},{"t":2,"x":990,"y":2.3},{"t":2,"x":1020,"y":2.1},{"t":2,"x":1050,"y":2.2},{"t":2,"x":1080,"y":2.0},{"t":2,"x":1110,"y":2.35},{"t":2,"x":1140,"y":2.05},{"t":2,"x":1170,"y":2.25},{"t":2,"x":1200,"y":2.1},
{"t":2,"x":1215,"y":2.05},{"t":2,"x":1600,"y":2.05},{"t":2,"x":2000,"y":2.05},{"t":2,"x":2390,"y":2.05},
{"t":1,"x":0,"y":1.0},{"t":1,"x":30,"y":1.1},{"t":1,"x":60,"y":0.95},{"t":1,"x":90,"y":1.05},{"t":1,"x":120,"y":0.9},{"t":1,"x":150,"y":1.1},{"t":1,"x":180,"y":1.0},{"t":1,"x":210,"y":1.15},{"t":1,"x":240,"y":0.95},{"t":1,"x":270,"y":1.05},{"t":1,"x":300,"y":1.0},{"t":1,"x":330,"y":1.2},{"t":1,"x":360,"y":0.9},{"t":1,"x":390,"y":1.05},{"t":1,"x":420,"y":1.0},{"t":1,"x":450,"y":1.15},{"t":1,"x":480,"y":0.95},{"t":1,"x":510,"y":1.1},{"t":1,"x":540,"y":1.0},{"t":1,"x":570,"y":0.9},{"t":1,"x":600,"y":1.05},{"t":1,"x":630,"y":1.2},{"t":1,"x":660,"y":0.95},{"t":1,"x":690,"y":1.05},{"t":1,"x":720,"y":1.0},{"t":1,"x":750,"y":1.1},{"t":1,"x":780,"y":0.9},{"t":1,"x":810,"y":1.05},{"t":1,"x":840,"y":1.15},{"t":1,"x":870,"y":0.95},{"t":1,"x":900,"y":1.05},{"t":1,"x":930,"y":1.0},{"t":1,"x":960,"y":1.2},{"t":1,"x":990,"y":0.9},{"t":1,"x":1020,"y":1.1},{"t":1,"x":1050,"y":1.0},{"t":1,"x":1080,"y":1.25},{"t":1,"x":1110,"y":0.95},{"t":1,"x":1140,"y":1.15},{"t":1,"x":1170,"y":0.9},{"t":1,"x":1200,"y":1.1},
{"t":1,"x":1240,"y":1.0},{"t":1,"x":1280,"y":1.05},{"t":1,"x":1320,"y":0.98},{"t":1,"x":1360,"y":1.02},{"t":1,"x":1400,"y":0.95},{"t":1,"x":1440,"y":1.0},{"t":1,"x":1480,"y":1.05},{"t":1,"x":1520,"y":0.97},{"t":1,"x":1560,"y":0.95},{"t":1,"x":1600,"y":1.02},{"t":1,"x":1640,"y":1.05},{"t":1,"x":1680,"y":1.0},{"t":1,"x":1720,"y":0.95},{"t":1,"x":1760,"y":1.03},{"t":1,"x":1800,"y":1.08},{"t":1,"x":1840,"y":1.0},{"t":1,"x":1880,"y":0.95},{"t":1,"x":1920,"y":1.05},{"t":1,"x":1960,"y":1.1},{"t":1,"x":1990,"y":1.25},{"t":1,"x":2020,"y":1.0},{"t":1,"x":2060,"y":1.05},{"t":1,"x":2100,"y":1.1},{"t":1,"x":2140,"y":1.0},{"t":1,"x":2180,"y":0.95},{"t":1,"x":2220,"y":1.05},{"t":1,"x":2260,"y":1.1},{"t":1,"x":2300,"y":1.0},{"t":1,"x":2340,"y":1.05},{"t":1,"x":2390,"y":1.0}
]},
"mark":{"type":"line","strokeWidth":1,"color":"#8fb55e"},
"encoding":{
"x":{"field":"x","type":"quantitative","title":"Отсчеты","scale":{"domain":[0,2400],"nice":false},"axis":{"values":[0,500,1000,1500,2000],"format":"d","labelPadding":14,"titlePadding":8}},
"y":{"field":"y","type":"quantitative","title":"Номер тэга","scale":{"domain":[0,22],"nice":false},"axis":{"values":[0,2,4,6,8,10,12,14,16,18,20,22],"format":"d","labelExpr":"datum.value % 4 === 0 ? datum.label : ''","labelPadding":10,"titlePadding":36}},
"detail":{"field":"t","type":"nominal"}
}
},
{
"data":{"values":[{"x":1208}]},
"mark":{"type":"rule","color":"#8fb55e","strokeWidth":3},
"encoding":{"x":{"field":"x","type":"quantitative","title":"Отсчеты"}}
},
{
"data":{"values":[{"x":1010,"x2":1414,"y":23.37}]},
"layer":[
{"mark":{"type":"rule","color":"#333333","strokeWidth":1.2},
"encoding":{"x":{"field":"x","type":"quantitative","title":"Отсчеты"},"x2":{"field":"x2"},"y":{"field":"y","type":"quantitative","title":"Номер тэга"}}},
{"mark":{"type":"point","shape":"M1.4,-1L0,0L1.4,1","filled":false,"size":100,"color":"#333333","strokeWidth":1.2,"opacity":1},
"encoding":{"x":{"field":"x","type":"quantitative","title":"Отсчеты"},"y":{"field":"y","type":"quantitative","title":"Номер тэга"}}},
{"mark":{"type":"point","shape":"M-1.4,-1L0,0L-1.4,1","filled":false,"size":100,"color":"#333333","strokeWidth":1.2,"opacity":1},
"encoding":{"x":{"field":"x2","type":"quantitative","title":"Отсчеты"},"y":{"field":"y","type":"quantitative","title":"Номер тэга"}}}
]
},
{
"data":{"values":[{"x":878,"y":23.37,"s":"до"},{"x":1649,"y":23.37,"s":"после"}]},
"mark":{"type":"text","font":"Roboto","fontWeight":300,"fontSize":17,"color":"#333333","baseline":"middle","align":"center"},
"encoding":{"x":{"field":"x","type":"quantitative","title":"Отсчеты"},"y":{"field":"y","type":"quantitative","title":"Номер тэга"},"text":{"field":"s"}}
}
]
}
